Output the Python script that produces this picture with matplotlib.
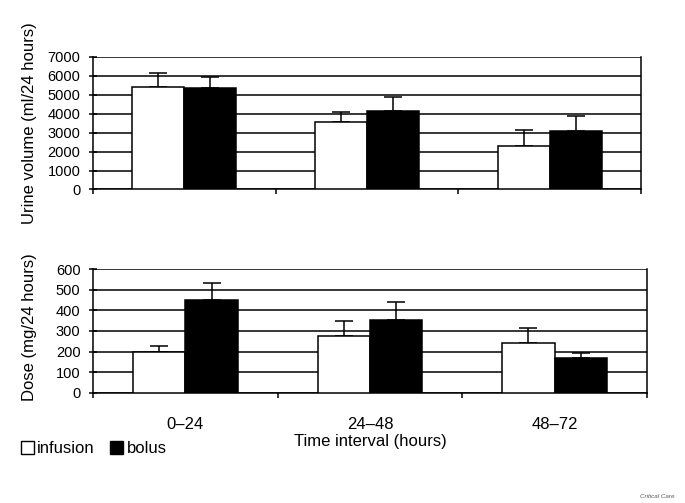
import numpy as np
import matplotlib
matplotlib.use("Agg")
import matplotlib.pyplot as plt
from matplotlib.patches import Patch

plt.rcParams['font.family'] = ['Liberation Sans', 'DejaVu Sans']

intervals = ['0\u201324', '24\u201348', '48\u201372']
urine_infusion = [5420, 3570, 2290]
urine_infusion_sd = [740, 490, 860]
urine_bolus = [5360, 4150, 3080]
urine_bolus_sd = [580, 700, 770]
dose_infusion = [200, 277, 244]
dose_infusion_sd = [27, 73, 72]
dose_bolus = [451, 352, 168]
dose_bolus_sd = [79, 88, 24]

fig = plt.figure(figsize=(6.85, 5.03), dpi=100)
ax1 = fig.add_axes([0.1358, 0.6233, 0.800, 0.2640])
ax2 = fig.add_axes([0.1358, 0.2187, 0.8088, 0.2465])

x = np.arange(len(intervals))
w = 0.284
lw = 1.1

def draw(ax, inf, inf_sd, bol, bol_sd, ymax, step):
    ax.bar(x - w/2, inf, w, color='white', edgecolor='black', linewidth=lw, zorder=3)
    ax.bar(x + w/2, bol, w, color='black', edgecolor='black', linewidth=lw, zorder=3)
    ax.errorbar(x - w/2, inf, yerr=[np.zeros(3), inf_sd], fmt='none', ecolor='black',
                elinewidth=lw, capsize=6.5, capthick=lw, zorder=2)
    ax.errorbar(x + w/2, bol, yerr=[np.zeros(3), bol_sd], fmt='none', ecolor='black',
                elinewidth=lw, capsize=6.5, capthick=lw, zorder=2)
    ax.set_xlim(-0.5, 2.5)
    ax.set_ylim(0, ymax)
    ax.set_yticks(np.arange(0, ymax + 1, step))
    ax.yaxis.grid(True, color='black', linewidth=lw, zorder=0)
    ax.set_axisbelow(True)
    ax.spines['top'].set_visible(False)
    for s in ['left', 'right', 'bottom']:
        ax.spines[s].set_linewidth(lw)
    ax.set_xticks([-0.5, 0.5, 1.5, 2.5], minor=True)
    ax.tick_params(axis='x', which='minor', length=3.5, width=lw, direction='out')
    ax.tick_params(axis='y', length=6, width=lw, direction='inout', labelsize=10.5, pad=6)

draw(ax1, urine_infusion, urine_infusion_sd, urine_bolus, urine_bolus_sd, 7000, 1000)
draw(ax2, dose_infusion, dose_infusion_sd, dose_bolus, dose_bolus_sd, 600, 100)

ax1.set_xticks([])
ax2.set_xticks(x)
ax2.set_xticklabels(intervals, fontsize=12)
ax2.tick_params(axis='x', which='major', length=0, pad=17)

ax1.set_ylabel('Urine volume (ml/24 hours)', fontsize=12)
ax1.yaxis.set_label_coords(-0.102, 0.5)
ax2.set_ylabel('Dose (mg/24 hours)', fontsize=12)
ax2.yaxis.set_label_coords(-0.101, 0.53)
ax2.set_xlabel('Time interval (hours)', fontsize=12, labelpad=2)

handles = [Patch(facecolor='white', edgecolor='black', linewidth=1.0, label='infusion'),
           Patch(facecolor='black', edgecolor='black', linewidth=1.0, label='bolus')]
fig.legend(handles=handles, loc='lower left', bbox_to_anchor=(0.03, 0.093), ncol=2,
           frameon=False, fontsize=12, handlelength=0.8, handleheight=0.8,
           handletextpad=0.2, columnspacing=0.9, borderaxespad=0, borderpad=0)

fig.text(0.985, 0.008, 'Critical Care', fontsize=4.5, style='italic', color='#555555',
         ha='right', va='bottom')

fig.savefig('out.png', dpi=100)
